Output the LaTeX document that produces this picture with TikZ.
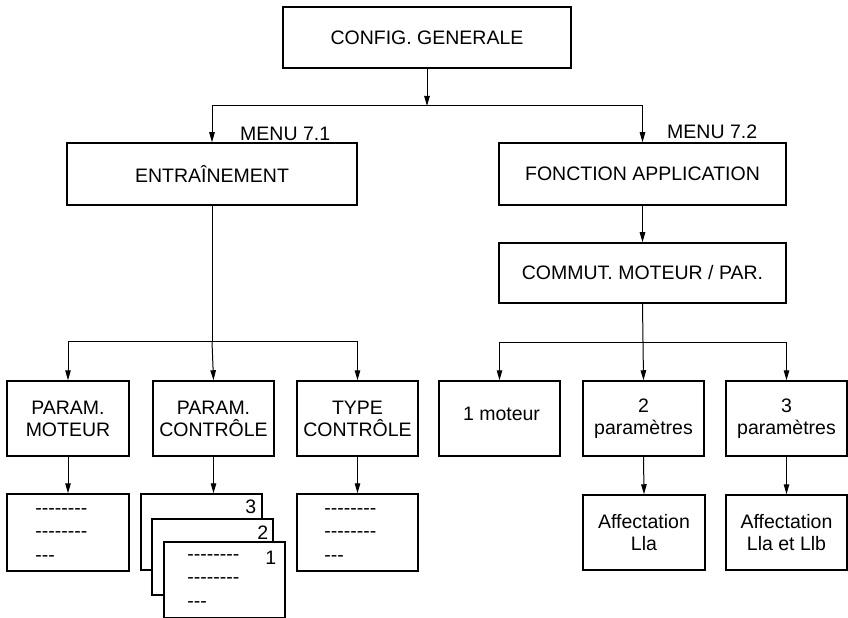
\documentclass[tikz,border=0pt]{standalone}
\usepackage{fontspec}
\setmainfont{Liberation Sans}
\usetikzlibrary{arrows.meta}
\newcommand\hy{-\kern0pt}
\newcommand\dlong{\hy\hy\hy\hy\hy\hy\hy\hy}
\newcommand\dshort{\hy\hy\hy}
\tikzset{
  box/.style={draw, line width=1.5bp, fill=white, align=center, inner sep=0pt,
    font=\fontsize{19.5bp}{22bp}\selectfont},
  dashtxt/.style={anchor=north west, inner sep=0pt, align=left,
    font=\fontsize{19.5bp}{23.5bp}\selectfont},
  lab/.style={inner sep=0pt, font=\fontsize{19.5bp}{22bp}\selectfont},
  conn/.style={line width=1bp},
  arr/.style={conn, -{Triangle[length=10bp,width=5.5bp]}}
}
\begin{document}
\begin{tikzpicture}[x=1bp,y=-1bp]
\useasboundingbox (0,0) rectangle (848,618);
% top level
\node[box, minimum width=288bp, minimum height=61bp] (cfg) at (427,37.5) {CONFIG. GENERALE};
\node[box, minimum width=290bp, minimum height=62bp] (ent) at (212,174) {ENTRAÎNEMENT};
\node[box, minimum width=287bp, minimum height=62bp] (fon) at (642.5,174) {FONCTION APPLICATION};
\node[box, minimum width=287bp, minimum height=60bp] (com) at (642.5,273) {COMMUT. MOTEUR / PAR.};
\node[lab, anchor=base west] (m71) at (240,140.5) {MENU 7.1};
\node[lab, anchor=base west] (m72) at (667,138.5) {MENU 7.2};
% second level left
\node[box, minimum width=122bp, minimum height=75bp] (pm) at (68,418.5) {PARAM.\\MOTEUR};
\node[box, minimum width=121bp, minimum height=75bp] (pc) at (213.5,418.5) {PARAM.\\CONTRÔLE};
\node[box, minimum width=121bp, minimum height=75bp] (tc) at (357.5,418.5) {TYPE\\CONTRÔLE};
% second level right
\node[box, minimum width=121bp, minimum height=75bp, text depth=9.5bp] (m1) at (499.5,418.5) {\hspace*{4bp}1 moteur};
\node[box, minimum width=121bp, minimum height=75bp] (p2) at (643.5,418.5) {2\\paramètres};
\node[box, minimum width=121bp, minimum height=75bp] (p3) at (786.5,418.5) {3\\paramètres};
% third level
\node[box, minimum width=122bp, minimum height=77bp] (pmd) at (68,532.5) {};
\node[box, minimum width=121bp, minimum height=77bp] (tcd) at (357.5,532.5) {};
\node[box, minimum width=121bp, minimum height=76bp] (s3) at (201.5,532) {};
\node[box, minimum width=121bp, minimum height=76bp] (s2) at (212.5,557) {};
\node[box, minimum width=121bp, minimum height=76bp] (s1) at (224.5,580) {};
\node[box, minimum width=122bp, minimum height=75bp] (a2) at (644,532.5) {Affectation\\Lla};
\node[box, minimum width=121bp, minimum height=75bp] (a3) at (786.5,532.5) {Affectation\\Lla et Llb};
% numbers of stacked boxes
\node[lab] (n3) at ([xshift=-12bp,yshift=-14bp]s3.north east) {3};
\node[lab] (n2) at ([xshift=-11bp,yshift=-14bp]s2.north east) {2};
\node[lab] (n1) at ([xshift=-15bp,yshift=-17bp]s1.north east) {1};
% dashes
\node[dashtxt] (dpm) at ([xshift=29bp,yshift=-15bp]pmd.north west) {\dlong\\\dlong\\\dshort};
\node[dashtxt] (dtc) at ([xshift=28bp,yshift=-15bp]tcd.north west) {\dlong\\\dlong\\\dshort};
\node[dashtxt] (ds1) at ([xshift=24bp,yshift=-13bp]s1.north west) {\dlong\\\dlong\\\dshort};
% connectors
\coordinate (j1) at (427,106);
\coordinate (j2) at (212,341.5);
\coordinate (j3) at (643,342);
\draw[arr] (cfg.south) -- (j1);
\draw[conn] (ent.north |- j1) -- (fon.north |- j1);
\draw[arr] (ent.north |- j1) -- (ent.north);
\draw[arr] (fon.north |- j1) -- (fon.north);
\draw[conn] (ent.south) -- (j2);
\draw[conn] (pm.north |- j2) -- (tc.north |- j2);
\draw[arr] (pm.north |- j2) -- (pm.north);
\draw[arr] (j2) -- (pc.north);
\draw[arr] (tc.north |- j2) -- (tc.north);
\draw[arr] (fon.south) -- (com.north);
\draw[conn] (com.south) -- (j3);
\draw[conn] (m1.north |- j3) -- (p3.north |- j3);
\draw[arr] (m1.north |- j3) -- (m1.north);
\draw[arr] (j3) -- (p2.north);
\draw[arr] (p3.north |- j3) -- (p3.north);
\draw[arr] (pm.south) -- (pmd.north);
\draw[arr] (pc.south) -- (pc.south |- s3.north);
\draw[arr] (tc.south) -- (tcd.north);
\draw[arr] (p2.south) -- (a2.north);
\draw[arr] (p3.south) -- (a3.north);
\end{tikzpicture}
\end{document}
